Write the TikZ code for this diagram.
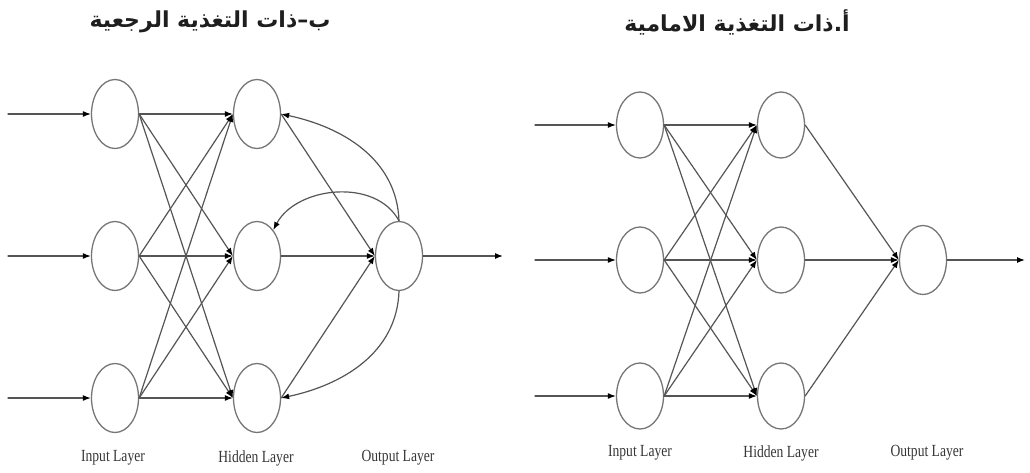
\documentclass[tikz,border=0pt]{standalone}
\usepackage{fontspec}
\usepackage{tikz}
\usetikzlibrary{arrows.meta,shapes.geometric}
\setmainfont{Liberation Serif}
\newfontfamily\labelfont[FakeStretch=0.8]{Liberation Serif}
\newfontfamily\arabicfont[Script=Arabic]{DejaVu Sans}
\TeXXeTstate=1
\definecolor{netline}{HTML}{555555}
\definecolor{ring}{HTML}{767676}
\definecolor{ink}{HTML}{1E1E1E}
\tikzset{
  net diagram/.style={
    x=1pt, y=-1pt,
    >={Latex[length=8pt,width=6pt,color=black]},
    line cap=round,
    line join=round
  },
  neuron/.style={
    ellipse,
    draw=ring,
    line width=1.3pt,
    fill=white,
    minimum width=47pt,
    minimum height=69pt,
    inner sep=0pt
  },
  linkarrow/.style={
    ->,
    draw=netline,
    line width=1.2pt
  },
  layerlabel/.style={
    font=\labelfont\fontsize{17}{19}\selectfont,
    text=ink!90
  },
  titlelabel/.style={
    font=\arabicfont\bfseries\fontsize{22}{26}\selectfont,
    text=ink
  }
}
\begin{document}
\begin{tikzpicture}[net diagram]
\useasboundingbox (0,0) rectangle (1030,472);

% b: recurrent net
\node[titlelabel] (fbtitle) at (210,22) {\beginR ب–ذات التغذية الرجعية\endR};
\node[neuron] (fbin1) at (115,114) {};
\node[neuron] (fbin2) at (115,256) {};
\node[neuron] (fbin3) at (115,398) {};
\node[neuron] (fbhid1) at (257,114) {};
\node[neuron] (fbhid2) at (257,256) {};
\node[neuron] (fbhid3) at (257,398) {};
\node[neuron] (fbout) at (399,256) {};
\coordinate (fbsrc1) at (8,114);
\coordinate (fbsrc2) at (8,256);
\coordinate (fbsrc3) at (8,398);
\coordinate (fbsink) at (503,256);
\node[layerlabel] (fbinlbl) at (113,458) {Input Layer};
\node[layerlabel] (fbhidlbl) at (256,458) {Hidden Layer};
\node[layerlabel] (fboutlbl) at (398,458) {Output Layer};

\foreach \i in {1,2,3} {
  \draw[linkarrow] (fbsrc\i) -- (fbin\i);
  \foreach \j in {1,2,3}
    \draw[linkarrow] (fbin\i.east) -- (fbhid\j.west);
  \draw[linkarrow] (fbhid\i.east) -- (fbout.west);
}
\draw[linkarrow] (fbout) -- (fbsink);
\draw[linkarrow] (fbout.north) to[out=92,in=-12] (fbhid1.east);
\draw[linkarrow] (fbout.north) to[out=118,in=62] (fbhid2.58);
\draw[linkarrow] (fbout.south) to[out=-92,in=12] (fbhid3.east);

% a: feedforward net
\node[titlelabel] (fftitle) at (737,22) {\beginR أ.ذات التغذية الامامية\endR};
\node[neuron, minimum height=66pt] (ffin1) at (640,125) {};
\node[neuron, minimum height=66pt] (ffin2) at (640,260) {};
\node[neuron, minimum height=66pt] (ffin3) at (640,396) {};
\node[neuron, minimum height=66pt] (ffhid1) at (781,125) {};
\node[neuron, minimum height=66pt] (ffhid2) at (781,260) {};
\node[neuron, minimum height=66pt] (ffhid3) at (781,396) {};
\node[neuron] (ffout) at (923,260) {};
\coordinate (ffsrc1) at (535,125);
\coordinate (ffsrc2) at (535,260);
\coordinate (ffsrc3) at (535,396);
\coordinate (ffsink) at (1025,260);
\node[layerlabel] (ffinlbl) at (640,453) {Input Layer};
\node[layerlabel] (ffhidlbl) at (781,453) {Hidden Layer};
\node[layerlabel] (ffoutlbl) at (927,453) {Output Layer};

\foreach \i in {1,2,3} {
  \draw[linkarrow] (ffsrc\i) -- (ffin\i);
  \foreach \j in {1,2,3}
    \draw[linkarrow] (ffin\i.east) -- (ffhid\j.west);
  \draw[linkarrow] (ffhid\i.east) -- (ffout.west);
}
\draw[linkarrow] (ffout) -- (ffsink);
\end{tikzpicture}
\end{document}
